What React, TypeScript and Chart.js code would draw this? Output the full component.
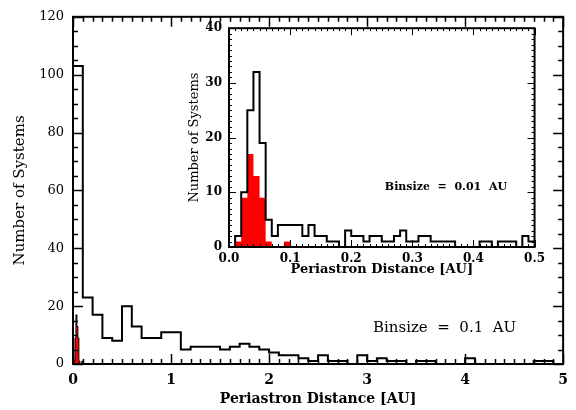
import React, { useEffect, useRef } from "react";
import { Chart, registerables } from "chart.js";
Chart.register(...registerables);

// ---------- data ----------
// Main histogram, bin size 0.1 AU, 0 - 5 AU
const mainBinWidth = 0.1;
const mainCounts = [
  103, 23, 17, 9, 8, 20, 13, 9, 9, 11,
  11, 5, 6, 6, 6, 5, 6, 7, 6, 5,
  4, 3, 3, 2, 1, 3, 1, 1, 0, 3,
  1, 2, 1, 1, 0, 1, 1, 0, 0, 0,
  2, 0, 0, 0, 0, 0, 0, 1, 1, 0,
];
// Inset histogram, bin size 0.01 AU, 0 - 0.5 AU
const insetBinWidth = 0.01;
const insetCounts = [
  0, 2, 10, 25, 32, 19, 5, 2, 4, 4,
  4, 4, 2, 4, 2, 2, 1, 1, 0, 3,
  2, 2, 1, 2, 2, 1, 1, 2, 3, 1,
  1, 2, 2, 1, 1, 1, 1, 0, 0, 0,
  0, 1, 1, 0, 1, 1, 1, 0, 2, 1,
];
// Red subset, bin size 0.01 AU
const redCounts = [0, 1, 9, 17, 13, 9, 1, 0, 0, 1, 0];

const mainXTicks = { min: 0, max: 5, step: 1 };
const mainYTicks = { min: 0, max: 120, step: 20 };
const insetXTicks = { min: 0, max: 0.5, step: 0.1 };
const insetYTicks = { min: 0, max: 40, step: 10 };

const xTitle = "Periastron Distance [AU]";
const yTitle = "Number of Systems";
const mainNote = "Binsize  =  0.1  AU";
const insetNote = "Binsize  =  0.01  AU";

const FONT = "'DejaVu Serif', serif";

// points at bin left edges + final right edge; drawn as a step (value holds across the bin)
function stepPoints(counts: number[], width: number) {
  const pts = counts.map((c, i) => ({ x: +(i * width).toFixed(4), y: c }));
  pts.push({ x: +(counts.length * width).toFixed(4), y: counts[counts.length - 1] });
  return pts;
}

function makeFramePlugin(
  id: string,
  cfg: {
    xMinor: number; xMajor: number; yMinor: number; yMajor: number;
    majorLen: number; minorLen: number; frameWidth: number; tickWidth: number;
  }
) {
  return {
    id,
    afterDatasetsDraw(chart: any) {
      const { ctx, chartArea: a, scales } = chart;
      const xs = scales.x;
      const ys = scales.y;
      ctx.save();
      ctx.strokeStyle = "#000";
      ctx.lineWidth = cfg.tickWidth;
      ctx.beginPath();
      const nx = Math.round((xs.max - xs.min) / cfg.xMinor);
      for (let i = 0; i <= nx; i++) {
        const v = xs.min + i * cfg.xMinor;
        const r = v / cfg.xMajor;
        const major = Math.abs(r - Math.round(r)) < 1e-6;
        const len = major ? cfg.majorLen : cfg.minorLen;
        const px = Math.round(xs.getPixelForValue(v)) + 0.5;
        ctx.moveTo(px, a.bottom);
        ctx.lineTo(px, a.bottom - len);
        ctx.moveTo(px, a.top);
        ctx.lineTo(px, a.top + len);
      }
      const ny = Math.round((ys.max - ys.min) / cfg.yMinor);
      for (let i = 0; i <= ny; i++) {
        const v = ys.min + i * cfg.yMinor;
        const r = v / cfg.yMajor;
        const major = Math.abs(r - Math.round(r)) < 1e-6;
        const len = major ? cfg.majorLen : cfg.minorLen;
        const py = Math.round(ys.getPixelForValue(v)) + 0.5;
        ctx.moveTo(a.left, py);
        ctx.lineTo(a.left + len, py);
        ctx.moveTo(a.right, py);
        ctx.lineTo(a.right - len, py);
      }
      ctx.stroke();
      ctx.lineWidth = cfg.frameWidth;
      ctx.strokeRect(a.left, a.top, a.right - a.left, a.bottom - a.top);
      ctx.restore();
    },
  };
}

function makeNotePlugin(id: string, text: string, xv: number, yv: number, font: string) {
  return {
    id,
    afterDraw(chart: any) {
      const { ctx, scales } = chart;
      ctx.save();
      ctx.font = font;
      ctx.fillStyle = "#000";
      ctx.textAlign = "left";
      ctx.textBaseline = "middle";
      ctx.fillText(text, scales.x.getPixelForValue(xv), scales.y.getPixelForValue(yv));
      ctx.restore();
    },
  };
}

export default function App() {
  const mainRef = useRef<HTMLCanvasElement | null>(null);
  const insetRef = useRef<HTMLCanvasElement | null>(null);

  useEffect(() => {
    const main = new Chart(mainRef.current as HTMLCanvasElement, {
      type: "line",
      data: {
        datasets: [
          {
            data: stepPoints(redCounts, insetBinWidth),
            stepped: "before",
            fill: "origin",
            backgroundColor: "#ff0000",
            borderColor: "#000",
            borderWidth: 1,
            pointRadius: 0,
            order: 2,
          } as any,
          {
            data: stepPoints(mainCounts, mainBinWidth),
            stepped: "before",
            fill: false,
            borderColor: "#000",
            borderWidth: 2,
            pointRadius: 0,
            order: 1,
          } as any,
        ],
      },
      options: {
        animation: false,
        responsive: false,
        maintainAspectRatio: false,
        layout: { padding: { left: 0, right: 4, top: 11, bottom: 0 } },
        plugins: { legend: { display: false }, tooltip: { enabled: false } },
        scales: {
          x: {
            type: "linear",
            min: mainXTicks.min,
            max: mainXTicks.max,
            grid: { display: false, drawTicks: false },
            border: { display: false },
            ticks: {
              stepSize: mainXTicks.step,
              padding: 8,
              color: "#000",
              maxRotation: 0,
              autoSkip: false,
              font: { family: FONT, size: 14, weight: "bold" },
            },
            title: {
              display: true,
              text: xTitle,
              color: "#000",
              font: { family: FONT, size: 14, weight: "bold" },
              padding: { top: 0, bottom: 2 },
            },
            afterFit: (s: any) => { s.height = 46; },
          },
          y: {
            type: "linear",
            min: mainYTicks.min,
            max: mainYTicks.max,
            grid: { display: false, drawTicks: false },
            border: { display: false },
            ticks: {
              stepSize: mainYTicks.step,
              padding: 9,
              color: "#000",
              autoSkip: false,
              font: { family: FONT, size: 13 },
            },
            title: {
              display: true,
              text: yTitle,
              color: "#000",
              font: { family: FONT, size: 15 },
              padding: { top: 11, bottom: 0 },
            },
            afterFit: (s: any) => { s.width = 73; },
          },
        },
      } as any,
      plugins: [
        makeFramePlugin("mainFrame", {
          xMinor: 0.1, xMajor: 1, yMinor: 5, yMajor: 20,
          majorLen: 10, minorLen: 5, frameWidth: 2, tickWidth: 1.5,
        }),
        makeNotePlugin("mainNote", mainNote, 3.06, 12.5, `15px ${FONT}`),
      ],
    });

    const inset = new Chart(insetRef.current as HTMLCanvasElement, {
      type: "line",
      data: {
        datasets: [
          {
            data: stepPoints(redCounts, insetBinWidth),
            stepped: "before",
            fill: "origin",
            backgroundColor: "#ff0000",
            borderWidth: 0,
            borderColor: "rgba(0,0,0,0)",
            pointRadius: 0,
            order: 2,
          } as any,
          {
            data: stepPoints(insetCounts, insetBinWidth),
            stepped: "before",
            fill: false,
            borderColor: "#000",
            borderWidth: 2,
            pointRadius: 0,
            order: 1,
          } as any,
        ],
      },
      options: {
        animation: false,
        responsive: false,
        maintainAspectRatio: false,
        layout: { padding: { left: 0, right: 14, top: 11, bottom: 0 } },
        plugins: { legend: { display: false }, tooltip: { enabled: false } },
        scales: {
          x: {
            type: "linear",
            min: insetXTicks.min,
            max: insetXTicks.max,
            grid: { display: false, drawTicks: false },
            border: { display: false },
            ticks: {
              stepSize: insetXTicks.step,
              padding: 5,
              color: "#000",
              maxRotation: 0,
              autoSkip: false,
              font: { family: FONT, size: 12, weight: "bold" },
              callback: (v: any) => Number(v).toFixed(1),
            },
            title: {
              display: true,
              text: xTitle,
              color: "#000",
              font: { family: FONT, size: 13, weight: "bold" },
              padding: { top: 0, bottom: 7 },
            },
            afterFit: (s: any) => { s.height = 37; },
          },
          y: {
            type: "linear",
            min: insetYTicks.min,
            max: insetYTicks.max,
            grid: { display: false, drawTicks: false },
            border: { display: false },
            ticks: {
              stepSize: insetYTicks.step,
              padding: 7,
              color: "#000",
              autoSkip: false,
              font: { family: FONT, size: 12, weight: "bold" },
            },
            title: {
              display: true,
              text: yTitle,
              color: "#000",
              font: { family: FONT, size: 13 },
              padding: { top: 7, bottom: 0 },
            },
            afterFit: (s: any) => { s.width = 49; },
          },
        },
      } as any,
      plugins: [
        makeFramePlugin("insetFrame", {
          xMinor: 0.01, xMajor: 0.1, yMinor: 1, yMajor: 10,
          majorLen: 7, minorLen: 3, frameWidth: 2, tickWidth: 1,
        }),
        makeNotePlugin("insetNote", insetNote, 0.255, 11, `bold 11px ${FONT}`),
      ],
    });

    return () => {
      main.destroy();
      inset.destroy();
    };
  }, []);

  return (
    <div style={{ position: "fixed", left: 0, top: 0, width: 576, height: 410, background: "#fff" }}>
      <canvas ref={mainRef} width={576} height={410} style={{ position: "absolute", left: 0, top: 0, width: 576, height: 410 }} />
      <canvas ref={insetRef} width={370} height={270} style={{ position: "absolute", left: 180, top: 14, width: 370, height: 270 }} />
    </div>
  );
}
